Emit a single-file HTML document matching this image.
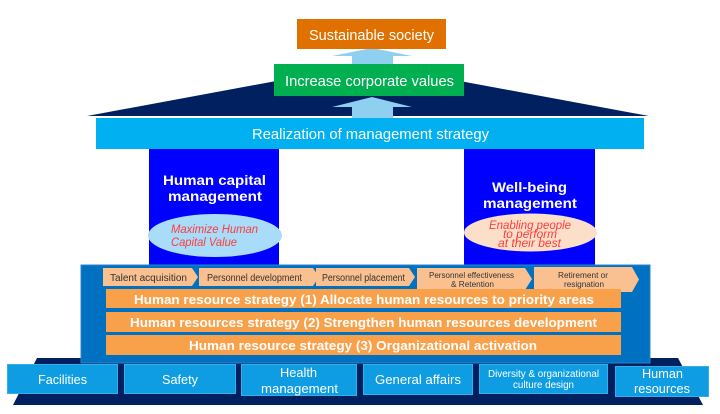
<!DOCTYPE html>
<html>
<head>
<meta charset="utf-8">
<style>
html,body{margin:0;padding:0;background:#fff;}
svg{display:block;}
text{font-family:"Liberation Sans",Arial,sans-serif;}
</style>
</head>
<body>
<svg width="720" height="414" viewBox="0 0 720 414" xmlns="http://www.w3.org/2000/svg">
  <rect x="0" y="0" width="720" height="414" fill="#fff"/>

  <!-- Roof -->
  <polygon points="87,116 649,116 368,64" fill="#002060"/>

  <!-- Arrows -->
  <rect x="352" y="55" width="41" height="10" fill="#8FCFEF"/>
  <polygon points="332,56 372,48 412,56" fill="#8FCFEF"/>
  <rect x="352" y="106" width="41" height="12" fill="#8FCFEF"/>
  <polygon points="332,107 372,97 412,107" fill="#8FCFEF"/>

  <!-- Sustainable society -->
  <rect x="297" y="19" width="149" height="30" fill="#E07000"/>
  <text x="309" y="40" font-size="14.5" fill="#fff" textLength="125" lengthAdjust="spacingAndGlyphs">Sustainable society</text>

  <!-- Increase corporate values -->
  <rect x="274" y="64" width="190" height="32" fill="#00B050"/>
  <text x="285" y="86" font-size="15" fill="#fff" textLength="169" lengthAdjust="spacingAndGlyphs">Increase corporate values</text>

  <!-- Realization bar -->
  <rect x="96" y="118" width="548" height="31" fill="#00B0F0"/>
  <text x="252" y="139" font-size="14.5" fill="#fff" textLength="237" lengthAdjust="spacingAndGlyphs">Realization of management strategy</text>

  <!-- Pillars -->
  <rect x="149" y="149" width="130" height="120" fill="#0000FF"/>
  <rect x="464" y="149" width="131" height="120" fill="#0000FF"/>

  <text x="163" y="185" font-size="14" font-weight="bold" fill="#fff" textLength="103" lengthAdjust="spacingAndGlyphs">Human capital</text>
  <text x="168" y="201" font-size="14" font-weight="bold" fill="#fff" textLength="94" lengthAdjust="spacingAndGlyphs">management</text>

  <text x="492" y="192" font-size="14" font-weight="bold" fill="#fff" textLength="75" lengthAdjust="spacingAndGlyphs">Well-being</text>
  <text x="483" y="208" font-size="14" font-weight="bold" fill="#fff" textLength="94" lengthAdjust="spacingAndGlyphs">management</text>

  <!-- Ellipses -->
  <ellipse cx="215" cy="235.5" rx="67" ry="21.5" fill="#A8DCF8"/>
  <text x="171" y="233" font-size="11.5" font-style="italic" fill="#FF3B3B" textLength="87" lengthAdjust="spacingAndGlyphs">Maximize Human</text>
  <text x="171" y="246" font-size="11.5" font-style="italic" fill="#FF3B3B" textLength="66" lengthAdjust="spacingAndGlyphs">Capital Value</text>

  <ellipse cx="530.5" cy="232.5" rx="66.5" ry="19" fill="#FCDFC8"/>
  <text x="489" y="229" font-size="11.5" font-style="italic" fill="#FF3B3B" textLength="82" lengthAdjust="spacingAndGlyphs">Enabling people</text>
  <text x="503" y="238" font-size="11.5" font-style="italic" fill="#FF3B3B" textLength="54" lengthAdjust="spacingAndGlyphs">to perform</text>
  <text x="498" y="247" font-size="11.5" font-style="italic" fill="#FF3B3B" textLength="63" lengthAdjust="spacingAndGlyphs">at their best</text>

  <!-- Base navy -->
  <polygon points="37,358 678,358 703,405 13,405" fill="#002060"/>

  <!-- Container -->
  <rect x="81" y="265" width="569" height="98" fill="#0070C0" stroke="#2B86CC" stroke-width="1"/>

  <!-- Chevrons -->
  <polygon points="103,268 192,268 198,277 192,286 103,286" fill="#FAC090"/>
  <text x="110" y="281" font-size="10" fill="#333" textLength="77" lengthAdjust="spacingAndGlyphs">Talent acquisition</text>

  <polygon points="199,268 313,268 319,277 313,286 199,286" fill="#FAC090"/>
  <text x="207" y="281" font-size="10" fill="#333" textLength="95" lengthAdjust="spacingAndGlyphs">Personnel development</text>

  <polygon points="316,268 409,268 415,277 409,286 316,286" fill="#FAC090"/>
  <text x="322" y="281" font-size="10" fill="#333" textLength="83" lengthAdjust="spacingAndGlyphs">Personnel placement</text>

  <polygon points="417,268 525,268 532,279 525,290 417,290" fill="#FAC090"/>
  <text x="429" y="278" font-size="8.5" fill="#333" textLength="85" lengthAdjust="spacingAndGlyphs">Personnel effectiveness</text>
  <text x="451" y="287" font-size="8.5" fill="#333" textLength="43" lengthAdjust="spacingAndGlyphs">&amp; Retention</text>

  <polygon points="534,267 632,267 639,279.5 632,292 534,292" fill="#FAC090"/>
  <text x="558" y="278" font-size="8.5" fill="#333" textLength="50" lengthAdjust="spacingAndGlyphs">Retirement or</text>
  <text x="564" y="287" font-size="8.5" fill="#333" textLength="40" lengthAdjust="spacingAndGlyphs">resignation</text>

  <!-- Strategy bars -->
  <rect x="106" y="289" width="515" height="19" fill="#F9A04B"/>
  <text x="134" y="304" font-size="12.5" font-weight="bold" fill="#fff" textLength="460" lengthAdjust="spacingAndGlyphs">Human resource strategy (1) Allocate human resources to priority areas</text>

  <rect x="106" y="312" width="515" height="20" fill="#F9A04B"/>
  <text x="130" y="327" font-size="12.5" font-weight="bold" fill="#fff" textLength="467" lengthAdjust="spacingAndGlyphs">Human resources strategy (2) Strengthen human resources development</text>

  <rect x="106" y="335" width="515" height="20" fill="#F9A04B"/>
  <text x="189" y="350" font-size="12.5" font-weight="bold" fill="#fff" textLength="348" lengthAdjust="spacingAndGlyphs">Human resource strategy (3) Organizational activation</text>

  <!-- Bottom boxes -->
  <g fill="#0E9DE2" stroke="#38AEE8" stroke-width="1">
    <rect x="7.5" y="364.5" width="110" height="29"/>
    <rect x="124.5" y="364.5" width="111" height="29"/>
    <rect x="241.5" y="364.5" width="115" height="31"/>
    <rect x="363.5" y="364.5" width="109" height="30"/>
    <rect x="479.5" y="364.5" width="128" height="29"/>
    <rect x="615.5" y="366.5" width="93" height="30"/>
  </g>
  <g fill="#fff">
    <text x="38" y="384" font-size="13" textLength="49" lengthAdjust="spacingAndGlyphs">Facilities</text>
    <text x="162" y="384" font-size="13" textLength="36" lengthAdjust="spacingAndGlyphs">Safety</text>
    <text x="280" y="377" font-size="13" textLength="37" lengthAdjust="spacingAndGlyphs">Health</text>
    <text x="261" y="393" font-size="13" textLength="77" lengthAdjust="spacingAndGlyphs">management</text>
    <text x="375" y="384" font-size="13" textLength="86" lengthAdjust="spacingAndGlyphs">General affairs</text>
    <text x="488" y="377" font-size="10" textLength="111" lengthAdjust="spacingAndGlyphs">Diversity &amp; organizational</text>
    <text x="513" y="388" font-size="10" textLength="61" lengthAdjust="spacingAndGlyphs">culture design</text>
    <text x="642" y="378" font-size="13" textLength="41" lengthAdjust="spacingAndGlyphs">Human</text>
    <text x="634" y="393" font-size="13" textLength="56" lengthAdjust="spacingAndGlyphs">resources</text>
  </g>
</svg>
</body>
</html>
